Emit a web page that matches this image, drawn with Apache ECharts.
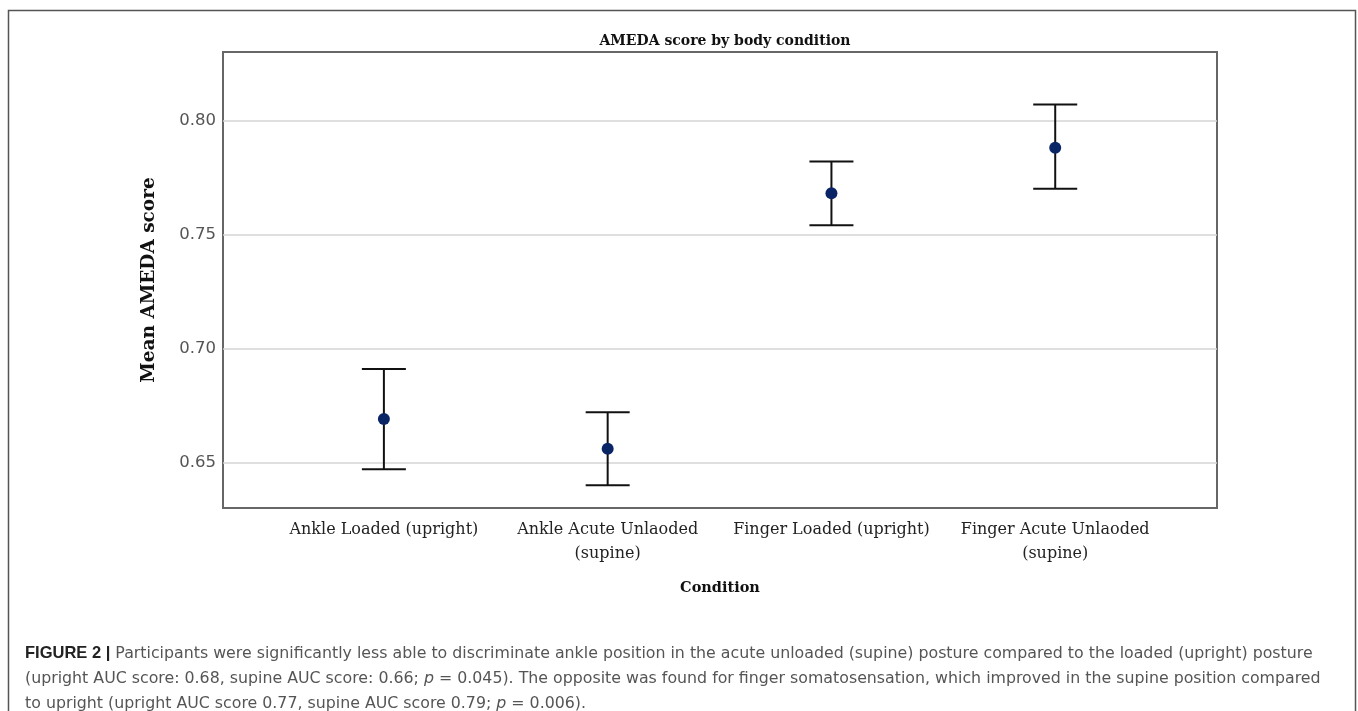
<!DOCTYPE html>
<html>
<head>
<meta charset="utf-8">
<script src="https://cdn.jsdelivr.net/npm/echarts@6/dist/echarts.min.js"></script>
<style>
  html, body { margin: 0; padding: 0; background: #fff; }
  #main { width: 1358px; height: 711px; }
</style>
</head>
<body>
<div id="main"></div>
<script>
var categories = ['Ankle Loaded (upright)', 'Ankle Acute Unlaoded\n(supine)', 'Finger Loaded (upright)', 'Finger Acute Unlaoded\n(supine)'];
var means = [0.669, 0.656, 0.768, 0.788];
var lower = [0.647, 0.640, 0.754, 0.770];
var upper = [0.691, 0.672, 0.782, 0.807];
var yTicks = [0.65, 0.70, 0.75, 0.80];

var serif = '"DejaVu Serif", "Liberation Serif", serif';

var pointData = means.map(function (m, i) { return [i, m]; });
var barData = means.map(function (m, i) { return [i, lower[i], upper[i]]; });

var myChart = echarts.init(document.getElementById('main'));

var option = {
  backgroundColor: '#fff',
  animation: false,
  title: {
    text: 'AMEDA score by body condition',
    left: 720,
    top: 29,
    textAlign: 'center',
    textStyle: {
      fontFamily: serif,
      fontSize: 14,
      fontWeight: 'bold',
      color: '#111'
    }
  },
  grid: {
    left: 223,
    top: 52,
    width: 994,
    height: 456,
    show: true,
    borderColor: '#666',
    borderWidth: 2
  },
  xAxis: {
    type: 'value',
    min: -0.719,
    max: 3.723,
    name: 'Condition',
    nameLocation: 'middle',
    nameGap: 73,
    nameTextStyle: {
      fontFamily: serif,
      fontSize: 14.5,
      fontWeight: 'bold',
      color: '#111'
    },
    axisLine: { show: false },
    axisTick: { show: false, customValues: [0, 1, 2, 3] },
    splitLine: { show: false },
    axisLabel: {
      customValues: [0, 1, 2, 3],
      margin: 10,
      fontFamily: serif,
      fontSize: 16,
      lineHeight: 24,
      color: '#222',
      formatter: function (v) { return categories[Math.round(v)]; }
    }
  },
  yAxis: {
    type: 'value',
    min: 0.63,
    max: 0.83,
    name: 'Mean AMEDA score',
    nameLocation: 'middle',
    nameGap: 64,
    nameTextStyle: {
      fontFamily: serif,
      fontSize: 18.5,
      fontWeight: 'bold',
      color: '#111'
    },
    axisLine: { show: false },
    axisTick: { show: false, customValues: yTicks },
    splitLine: { show: true, lineStyle: { color: '#d4d4d4', width: 1.5 } },
    axisLabel: {
      customValues: yTicks,
      margin: 7,
      fontFamily: '"DejaVu Sans", sans-serif',
      fontSize: 16.5,
      color: '#555',
      formatter: function (v) { return v.toFixed(2); }
    }
  },
  graphic: [
    {
      type: 'rect',
      shape: { x: 8.5, y: 10.5, width: 1347, height: 720 },
      style: { fill: 'none', stroke: '#555', lineWidth: 1.5 },
      silent: true
    },
    {
      type: 'text',
      left: 25,
      top: 641,
      style: {
        text: '{b|FIGURE 2 |} Participants were significantly less able to discriminate ankle position in the acute unloaded (supine) posture compared to the loaded (upright) posture\n' +
              '(upright AUC score: 0.68, supine AUC score: 0.66; {i|p} = 0.045). The opposite was found for finger somatosensation, which improved in the supine position compared\n' +
              'to upright (upright AUC score 0.77, supine AUC score 0.79; {i|p} = 0.006).',
        font: '15.8px "DejaVu Sans", sans-serif',
        fill: '#555',
        lineHeight: 25,
        rich: {
          b: { fontWeight: 'bold', fill: '#222', fontSize: 16.5, fontFamily: '"Liberation Sans", Arial, sans-serif', lineHeight: 25 },
          i: { fontStyle: 'italic', fill: '#555', fontSize: 15.8, fontFamily: '"DejaVu Sans", sans-serif', lineHeight: 25 }
        }
      },
      silent: true
    }
  ],
  series: [
    {
      type: 'custom',
      data: barData,
      z: 3,
      renderItem: function (params, api) {
        var x = api.value(0);
        var lo = api.coord([x, api.value(1)]);
        var hi = api.coord([x, api.value(2)]);
        var half = 22;
        var style = { stroke: '#111', lineWidth: 2 };
        return {
          type: 'group',
          children: [
            { type: 'line', shape: { x1: hi[0], y1: hi[1], x2: lo[0], y2: lo[1] }, style: style },
            { type: 'line', shape: { x1: hi[0] - half, y1: hi[1], x2: hi[0] + half, y2: hi[1] }, style: style },
            { type: 'line', shape: { x1: lo[0] - half, y1: lo[1], x2: lo[0] + half, y2: lo[1] }, style: style }
          ]
        };
      }
    },
    {
      type: 'scatter',
      data: pointData,
      z: 4,
      symbol: 'circle',
      symbolSize: 12,
      itemStyle: { color: '#0a2566', opacity: 1 }
    }
  ]
};

myChart.setOption(option);
</script>
</body>
</html>
